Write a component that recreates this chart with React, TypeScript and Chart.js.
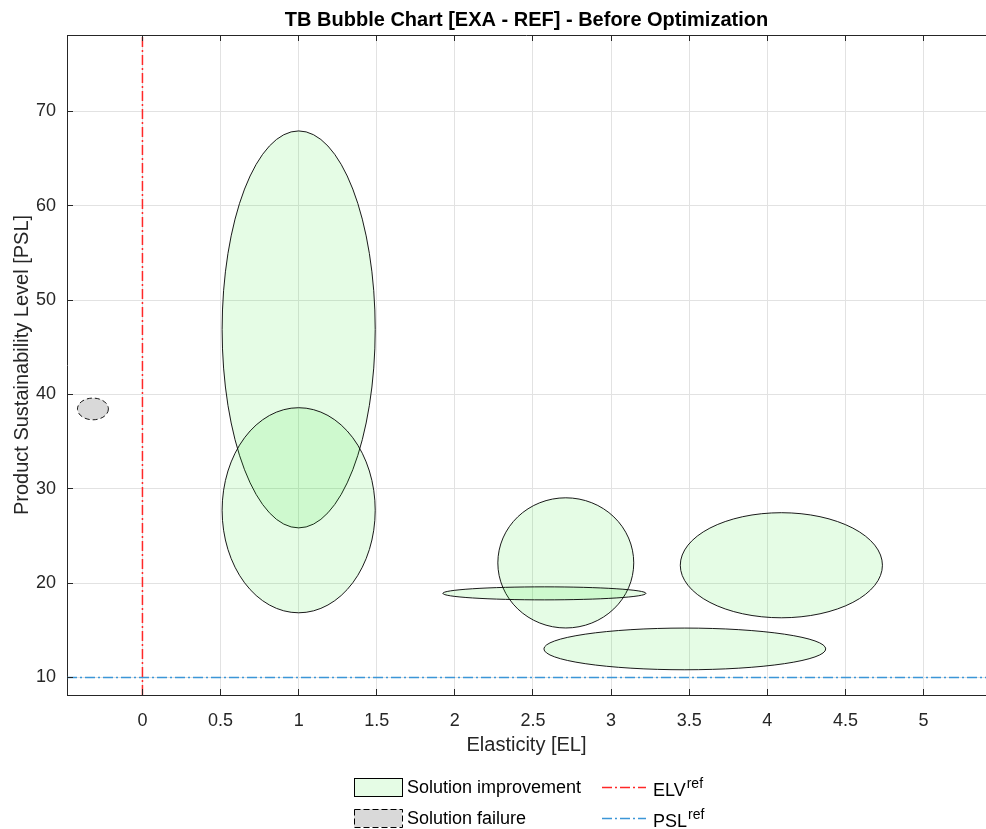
import { useEffect, useRef } from "react";
import { Chart, registerables } from "chart.js";

Chart.register(...registerables);

const FONT = "'Liberation Sans', Arial, Helvetica, sans-serif";

// Axis limits and tick marks
const xLimits = [-0.483, 5.4];
const yLimits = [8.145, 78.11];
const xTickValues = [0, 0.5, 1, 1.5, 2, 2.5, 3, 3.5, 4, 4.5, 5];
const yTickValues = [10, 20, 30, 40, 50, 60, 70];

// Solution improvement ellipses: centre (EL, PSL) and semi-axes
const improvementEL = [1.0, 1.0, 2.71, 2.573, 4.09, 3.472];
const improvementPSL = [46.9, 27.73, 22.15, 18.92, 21.9, 13.03];
const improvementRadiusEL = [0.49, 0.49, 0.435, 0.65, 0.647, 0.902];
const improvementRadiusPSL = [21.04, 10.87, 6.9, 0.69, 5.57, 2.21];

// Solution failure ellipses
const failureEL = [-0.317];
const failurePSL = [38.47];
const failureRadiusEL = [0.099];
const failureRadiusPSL = [1.15];

// Reference levels
const elvRef = 0;
const pslRef = 10;

const legendNames = ["Solution improvement", "Solution failure", "ELV", "PSL"];
const legendSuperscripts = ["", "", "ref", "ref"];

// Styles
const IMPROVEMENT_FILL = "rgba(0, 230, 0, 0.1)";
const FAILURE_FILL = "#d9d9d9";
const EDGE = "#000000";
const ELV_COLOR = "rgb(255, 40, 40)";
const PSL_COLOR = "rgb(60, 150, 215)";
const DASH_DOT = [10, 3, 2, 3];

type EllipsePoint = { x: number; y: number; rx: number; ry: number };

const toEllipses = (xs: number[], ys: number[], rxs: number[], rys: number[]): EllipsePoint[] =>
  xs.map((x, i) => ({ x, y: ys[i], rx: rxs[i], ry: rys[i] }));

const ellipsePlugin = {
  id: "ellipseBubbles",
  beforeDatasetsDraw(chart: any) {
    const { ctx, chartArea, scales } = chart;
    const xs = scales.x;
    const ys = scales.y;
    ctx.save();
    ctx.beginPath();
    ctx.rect(chartArea.left, chartArea.top, chartArea.right - chartArea.left, chartArea.bottom - chartArea.top);
    ctx.clip();
    chart.data.datasets.forEach((ds: any) => {
      if (!ds.ellipse) return;
      ds.data.forEach((p: EllipsePoint) => {
        const cx = xs.getPixelForValue(p.x);
        const cy = ys.getPixelForValue(p.y);
        const rx = Math.abs(xs.getPixelForValue(p.x + p.rx) - cx);
        const ry = Math.abs(ys.getPixelForValue(p.y + p.ry) - cy);
        ctx.beginPath();
        ctx.ellipse(cx, cy, rx, ry, 0, 0, Math.PI * 2);
        ctx.fillStyle = ds.backgroundColor;
        ctx.fill();
        ctx.setLineDash(ds.borderDash || []);
        ctx.lineWidth = ds.borderWidth;
        ctx.strokeStyle = ds.borderColor;
        ctx.stroke();
      });
    });
    ctx.restore();
  },
};

const boxPlugin = {
  id: "axesBox",
  afterDraw(chart: any) {
    const { ctx, chartArea, scales } = chart;
    const { left, right, top, bottom } = chartArea;
    const tick = 6;
    ctx.save();
    ctx.strokeStyle = "#262626";
    ctx.lineWidth = 1;
    ctx.setLineDash([]);
    ctx.beginPath();
    ctx.moveTo(left, top + 0.5);
    ctx.lineTo(right, top + 0.5);
    xTickValues.forEach((v) => {
      const px = Math.round(scales.x.getPixelForValue(v) - 0.5) + 0.5;
      ctx.moveTo(px, bottom);
      ctx.lineTo(px, bottom - tick);
      ctx.moveTo(px, top);
      ctx.lineTo(px, top + tick);
    });
    yTickValues.forEach((v) => {
      const py = Math.round(scales.y.getPixelForValue(v) - 0.5) + 0.5;
      ctx.moveTo(left, py);
      ctx.lineTo(left + tick, py);
    });
    ctx.stroke();
    ctx.restore();
  },
};

const legendPlugin = {
  id: "bottomLegend",
  afterDraw(chart: any) {
    const { ctx } = chart;
    const rows = [787, 818];
    const patchFills = [IMPROVEMENT_FILL, FAILURE_FILL];
    const patchDashes = [[], [6, 3]];
    const lineColors = [ELV_COLOR, PSL_COLOR];
    const boxLeft = 354;
    const boxW = 48;
    const boxH = 18;
    const textLeft = 407;
    const lineLeft = 602;
    const lineRight = 646;
    const text2Left = 653;
    ctx.save();
    ctx.textBaseline = "middle";
    ctx.textAlign = "left";
    // patch entries
    [0, 1].forEach((i) => {
      const y = rows[i];
      const top = Math.round(y - boxH / 2);
      ctx.fillStyle = patchFills[i];
      ctx.fillRect(boxLeft, top, boxW, boxH);
      ctx.setLineDash(patchDashes[i]);
      ctx.strokeStyle = EDGE;
      ctx.lineWidth = 1;
      ctx.strokeRect(boxLeft + 0.5, top + 0.5, boxW, boxH);
      ctx.setLineDash([]);
      ctx.fillStyle = "#000";
      ctx.font = `18px ${FONT}`;
      ctx.fillText(legendNames[i], textLeft, y + 1);
    });
    // line entries
    [2, 3].forEach((i, r) => {
      const y = rows[r] + 0.5;
      ctx.strokeStyle = lineColors[r];
      ctx.lineWidth = 1.5;
      ctx.setLineDash(DASH_DOT);
      ctx.beginPath();
      ctx.moveTo(lineLeft, y);
      ctx.lineTo(lineRight, y);
      ctx.stroke();
      ctx.setLineDash([]);
      ctx.fillStyle = "#000";
      ctx.font = `18px ${FONT}`;
      ctx.fillText(legendNames[i], text2Left, rows[r] + 4);
      const w = ctx.measureText(legendNames[i]).width;
      ctx.font = `14px ${FONT}`;
      ctx.fillText(legendSuperscripts[i], text2Left + w + 1, rows[r] - 3);
    });
    ctx.restore();
  },
};

export default function App() {
  const canvasRef = useRef<HTMLCanvasElement | null>(null);

  useEffect(() => {
    if (!canvasRef.current) return;
    const chart = new Chart(canvasRef.current, {
      type: "scatter",
      data: {
        datasets: [
          {
            label: legendNames[0],
            data: toEllipses(improvementEL, improvementPSL, improvementRadiusEL, improvementRadiusPSL),
            ellipse: true,
            backgroundColor: IMPROVEMENT_FILL,
            borderColor: EDGE,
            borderWidth: 0.9,
            pointRadius: 0,
            pointHitRadius: 0,
          } as any,
          {
            label: legendNames[1],
            data: toEllipses(failureEL, failurePSL, failureRadiusEL, failureRadiusPSL),
            ellipse: true,
            backgroundColor: FAILURE_FILL,
            borderColor: EDGE,
            borderWidth: 0.9,
            borderDash: [5, 3],
            pointRadius: 0,
            pointHitRadius: 0,
          } as any,
          {
            label: legendNames[2],
            data: [
              { x: elvRef, y: yLimits[0] },
              { x: elvRef, y: yLimits[1] },
            ],
            showLine: true,
            borderColor: ELV_COLOR,
            borderWidth: 1.5,
            borderDash: DASH_DOT,
            pointRadius: 0,
          },
          {
            label: legendNames[3],
            data: [
              { x: xLimits[0], y: pslRef },
              { x: xLimits[1], y: pslRef },
            ],
            showLine: true,
            borderColor: PSL_COLOR,
            borderWidth: 1.5,
            borderDash: DASH_DOT,
            pointRadius: 0,
          },
        ],
      },
      options: {
        responsive: false,
        animation: false,
        events: [],
        layout: { padding: { left: 0, right: 4, top: 0, bottom: 69 } },
        plugins: {
          legend: { display: false },
          tooltip: { enabled: false },
          title: {
            display: true,
            text: "TB Bubble Chart [EXA - REF] - Before Optimization",
            fullSize: false,
            color: "#000000",
            font: { family: FONT, size: 20, weight: "bold" },
            padding: { top: 8, bottom: 3 },
          },
        },
        scales: {
          x: {
            type: "linear",
            min: xLimits[0],
            max: xLimits[1],
            afterBuildTicks: (s: any) => {
              s.ticks = xTickValues.map((value) => ({ value }));
            },
            afterFit: (s: any) => {
              s.height = 65;
            },
            grid: { color: "#e2e2e2", drawTicks: false },
            border: { display: true, color: "#262626", width: 1 },
            ticks: {
              color: "#262626",
              font: { family: FONT, size: 18 },
              padding: 15,
              maxRotation: 0,
              autoSkip: false,
              callback: (v: any) => String(v),
            },
            title: {
              display: true,
              text: "Elasticity [EL]",
              color: "#262626",
              font: { family: FONT, size: 20 },
              padding: { top: 0, bottom: 3 },
            },
          },
          y: {
            type: "linear",
            min: yLimits[0],
            max: yLimits[1],
            afterBuildTicks: (s: any) => {
              s.ticks = yTickValues.map((value) => ({ value }));
            },
            afterFit: (s: any) => {
              s.width = 67;
            },
            grid: { color: "#e2e2e2", drawTicks: false },
            border: { display: true, color: "#262626", width: 1 },
            ticks: {
              color: "#262626",
              font: { family: FONT, size: 18 },
              padding: 11,
              autoSkip: false,
              callback: (v: any) => String(v),
            },
            title: {
              display: true,
              text: "Product Sustainability Level [PSL]",
              color: "#262626",
              font: { family: FONT, size: 20 },
              padding: { top: 10, bottom: 0 },
            },
          },
        },
      },
      plugins: [ellipsePlugin, boxPlugin, legendPlugin],
    });
    return () => chart.destroy();
  }, []);

  return (
    <div
      style={{
        position: "fixed",
        left: 0,
        top: 0,
        width: 986,
        height: 829,
        overflow: "hidden",
        background: "#ffffff",
      }}
    >
      <canvas ref={canvasRef} width={990} height={829} style={{ display: "block" }} />
    </div>
  );
}
